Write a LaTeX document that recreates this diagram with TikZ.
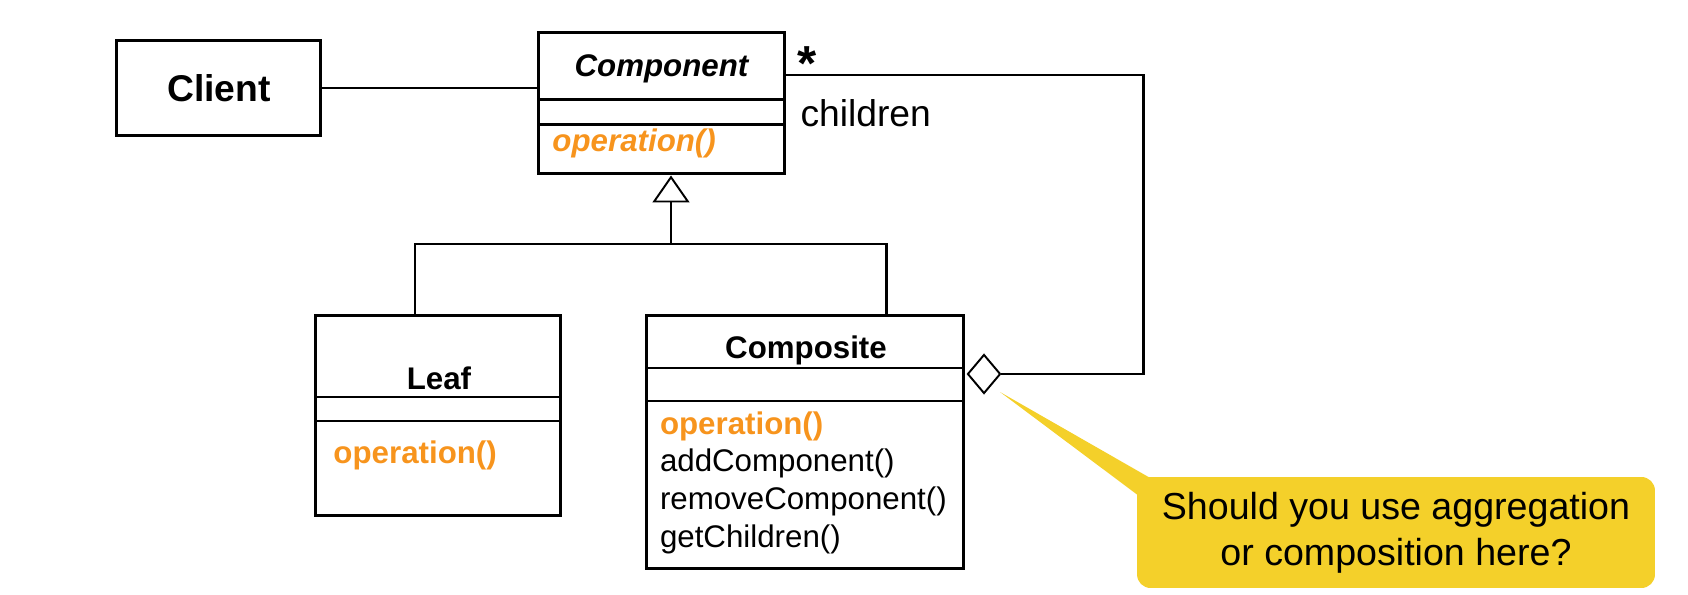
\documentclass[tikz,border=0pt]{standalone}
\usepackage{fontspec}
\setmainfont{Liberation Sans}
\usetikzlibrary{arrows.meta,shapes.geometric}
\definecolor{oporange}{RGB}{247,148,29}
\definecolor{noteyellow}{RGB}{244,208,42}

\begin{document}
\begin{tikzpicture}[x=0.02cm,y=-0.02cm,line width=1.7pt,
  box/.style={draw,rectangle,inner sep=0pt},
  small/.style={inner sep=0pt,font=\fontsize{17.8}{21}\selectfont},
  big/.style={inner sep=0pt,font=\fontsize{21.2}{24}\selectfont},
  op/.style={small,text=oporange,font=\fontsize{17.8}{21}\selectfont\bfseries}]
  \useasboundingbox (0,0) rectangle (1688,595);
  % client
  \node[box,minimum width=4.1cm,minimum height=1.92cm] (client) at (218.5,88) {};
  \node[big,anchor=base] (clientname) at (219,101) {\bfseries Client};
  % component class
  \node[box,minimum width=4.94cm,minimum height=2.84cm] (comp) at (661.5,103) {};
  \draw (538,99.5) -- (785,99.5);
  \draw (538,124.5) -- (785,124.5);
  \node[small,anchor=base] (compname) at (661.5,76) {\bfseries\itshape Component};
  \node[op,anchor=base west] (compop) at (551,151.5) {\itshape operation()};
  % leaf class
  \node[box,minimum width=4.89cm,minimum height=3.99cm] (leaf) at (438,415.5) {};
  \draw (315.5,397) -- (560.5,397);
  \draw (315.5,421) -- (560.5,421);
  \node[small,anchor=base] (leafname) at (439,389) {\bfseries Leaf};
  \node[op,anchor=base west] (leafop) at (332,463) {operation()};
  % composite class
  \node[box,minimum width=6.36cm,minimum height=5.07cm] (compo) at (805,442) {};
  \draw (646,368) -- (964,368);
  \draw (646,401) -- (964,401);
  \node[small,anchor=base] (componame) at (806,358) {\bfseries Composite};
  \node[op,anchor=base west] (compoop) at (658.5,434) {operation()};
  \node[small,anchor=base west] (addc) at (658.5,471.5) {addComponent()};
  \node[small,anchor=base west] (remc) at (658.5,509.5) {removeComponent()};
  \node[small,anchor=base west] (getc) at (658.5,547) {getChildren()};
  % client uses component
  \draw (client.east) -- (client.east -| comp.west);
  % inheritance
  \coordinate (join) at (671,244);
  \coordinate (lstem) at (415,244);
  \coordinate (cstem) at (886,244);
  \draw (leaf.north -| lstem) -- (lstem) -- (cstem) -- (compo.north -| cstem);
  \draw[-{Triangle[open,length=0.54cm,width=0.74cm,line width=1.1pt]}] (join) -- (join |- comp.south);
  % children aggregation
  \node[draw,diamond,aspect=0.85,line width=1.1pt,minimum width=0.66cm,minimum height=0.78cm,inner sep=0pt] (agg) at (984,374) {};
  \coordinate (corner) at (1143,75);
  \draw (comp.east |- corner) -- (corner) -- (corner |- agg.east) -- (agg.east);
  \node[inner sep=0pt,anchor=base west,font=\fontsize{28}{30}\selectfont\bfseries] (star) at (796,80) {*};
  \node[big,anchor=base west] (children) at (799,126) {children};
  % question note
  \coordinate (tip) at (1000,392);
  \fill[noteyellow] (tip) -- (1152,479) -- (1139,496) -- cycle;
  \node[fill=noteyellow,rounded corners=0.27cm,minimum width=10.36cm,minimum height=2.22cm,
    align=center,inner sep=0pt,font=\fontsize{21.4}{26.2}\selectfont] (note) at (1396,532.5)
    {Should you use aggregation\\or composition here?};
\end{tikzpicture}
\end{document}
